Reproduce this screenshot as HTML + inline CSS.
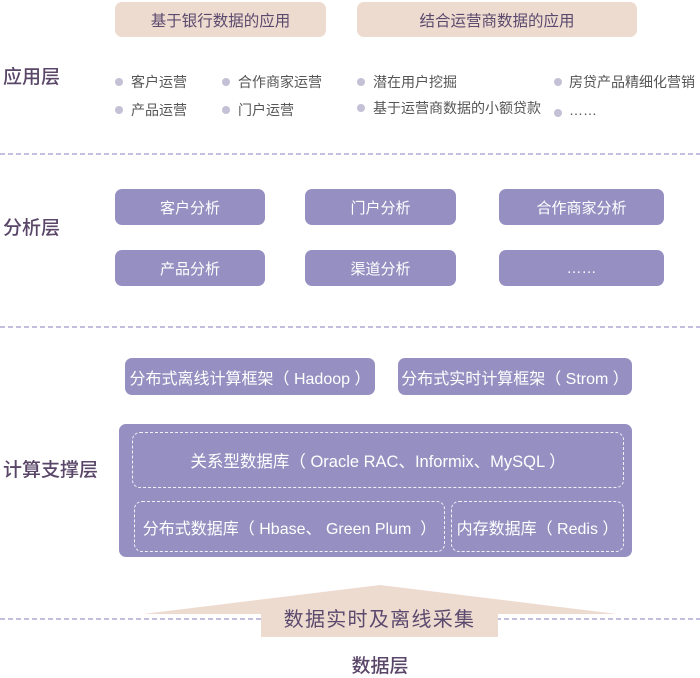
<!DOCTYPE html>
<html><head><meta charset="utf-8">
<style>
*{margin:0;padding:0;box-sizing:border-box}
body{width:700px;height:677px;background:#fff;position:relative;overflow:hidden;font-family:"Liberation Sans","Noto Sans CJK SC",sans-serif}
.a{position:absolute}
.peach{background:#EEDBD0;border-radius:7px;color:#5B4A6E;font-size:15px;display:flex;align-items:center;justify-content:center}
.lbl{position:absolute;font-size:19px;color:#5A4668;font-weight:500;left:3px;line-height:1}
.bl{position:absolute;font-size:14px;color:#555;line-height:1;white-space:nowrap}
.dot{position:absolute;width:8px;height:8px;border-radius:50%;background:#C4C0D6}
.pb{position:absolute;background:#9590C1;border-radius:7px;color:#fff;font-size:15px;display:flex;align-items:center;justify-content:center;white-space:pre}
.db{position:absolute;border:1.5px dashed #F2F0F8;border-radius:8px;color:#fff;font-size:16px;display:flex;align-items:center;justify-content:center;white-space:pre}
</style></head><body>
<svg class="a" style="left:0;top:0" width="700" height="677">
<line x1="0" y1="154" x2="700" y2="154" stroke="#B3A9D5" stroke-width="1.6" stroke-dasharray="5 3"/>
<line x1="0" y1="327" x2="700" y2="327" stroke="#B3A9D5" stroke-width="1.6" stroke-dasharray="5 3"/>
<line x1="0" y1="619" x2="700" y2="619" stroke="#B3A9D5" stroke-width="1.6" stroke-dasharray="5 3"/>
<polygon points="143,614 380,585 617,614 498,614 498,637 261,637 261,614" fill="#EEDBD0"/>
</svg>

<div class="a peach" style="left:115px;top:2px;width:211px;height:35px;font-size:15.5px">基于银行数据的应用</div>
<div class="a peach" style="left:357px;top:2px;width:280px;height:35px;font-size:15.5px">结合运营商数据的应用</div>

<div class="lbl" style="top:68px">应用层</div>

<div class="dot" style="left:115px;top:78px"></div><div class="bl" style="left:131px;top:75px">客户运营</div>
<div class="dot" style="left:222px;top:78px"></div><div class="bl" style="left:238px;top:75px">合作商家运营</div>
<div class="dot" style="left:357px;top:78px"></div><div class="bl" style="left:373px;top:75px">潜在用户挖掘</div>
<div class="dot" style="left:554px;top:78px"></div><div class="bl" style="left:569px;top:75px">房贷产品精细化营销</div>
<div class="dot" style="left:115px;top:106px"></div><div class="bl" style="left:131px;top:103px">产品运营</div>
<div class="dot" style="left:222px;top:106px"></div><div class="bl" style="left:238px;top:103px">门户运营</div>
<div class="dot" style="left:357px;top:104px"></div><div class="bl" style="left:373px;top:101px">基于运营商数据的小额贷款</div>
<div class="dot" style="left:554px;top:109px"></div><div class="bl" style="left:569px;top:103px">……</div>

<div class="lbl" style="top:219px">分析层</div>
<div class="pb" style="left:115px;top:189px;width:150px;height:36px">客户分析</div>
<div class="pb" style="left:305px;top:189px;width:151px;height:36px">门户分析</div>
<div class="pb" style="left:499px;top:189px;width:165px;height:36px">合作商家分析</div>
<div class="pb" style="left:115px;top:250px;width:150px;height:36px">产品分析</div>
<div class="pb" style="left:305px;top:250px;width:151px;height:36px">渠道分析</div>
<div class="pb" style="left:499px;top:250px;width:165px;height:36px">……</div>

<div class="pb" style="left:125px;top:358px;width:250px;height:37px;font-size:16px">分布式离线计算框架（ Hadoop ）</div>
<div class="pb" style="left:398px;top:358px;width:234px;height:37px;font-size:16px">分布式实时计算框架（ Strom ）</div>

<div class="lbl" style="top:461px">计算支撑层</div>
<div class="pb" style="left:119px;top:424px;width:513px;height:133px"></div>
<div class="db" style="left:132px;top:432px;width:492px;height:56px;font-size:16.5px">关系型数据库（ Oracle RAC、Informix、MySQL ）</div>
<div class="db" style="left:134px;top:501px;width:311px;height:51px">分布式数据库（ Hbase、 Green Plum  ）</div>
<div class="db" style="left:451px;top:501px;width:173px;height:51px">内存数据库（ Redis ）</div>

<div class="a" style="left:261px;top:607px;width:237px;text-align:center;font-size:20px;color:#5B4A6E;line-height:26px;letter-spacing:1.3px">数据实时及离线采集</div>
<div class="a" style="left:320px;top:656px;width:120px;text-align:center;font-size:19px;color:#5A4668;font-weight:500;line-height:22px">数据层</div>
</body></html>
